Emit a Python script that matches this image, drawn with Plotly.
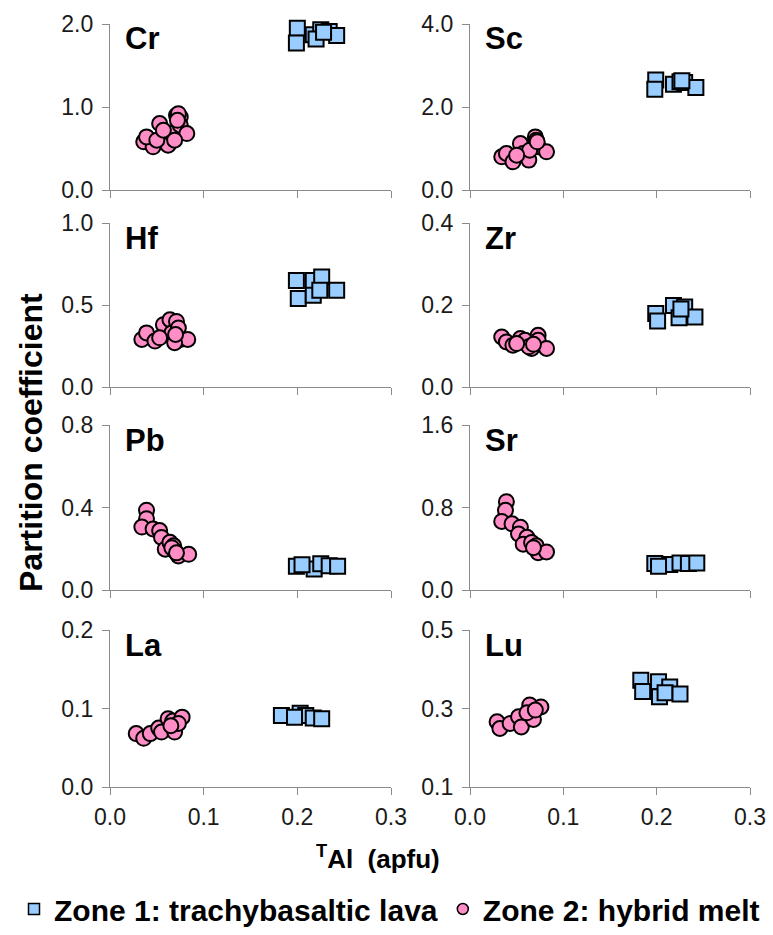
import plotly.graph_objects as go

W, H = 773, 935

# ---------------- data ----------------
elements = ["Cr", "Sc", "Hf", "Zr", "Pb", "Sr", "La", "Lu"]

cr_z1_x = [0.200, 0.199, 0.217, 0.225, 0.234, 0.242, 0.220, 0.228]
cr_z1_y = [1.95, 1.77, 1.87, 1.93, 1.91, 1.86, 1.82, 1.90]
cr_z2_x = [0.036, 0.046, 0.039, 0.053, 0.059, 0.062, 0.066, 0.071, 0.073, 0.075, 0.075, 0.082, 0.069, 0.050, 0.057, 0.073, 0.072]
cr_z2_y = [0.58, 0.52, 0.64, 0.80, 0.66, 0.54, 0.68, 0.90, 0.86, 0.88, 0.78, 0.68, 0.60, 0.60, 0.72, 0.92, 0.84]

sc_z1_x = [0.199, 0.198, 0.218, 0.225, 0.230, 0.242, 0.227]
sc_z1_y = [2.65, 2.43, 2.55, 2.61, 2.59, 2.47, 2.63]
sc_z2_x = [0.034, 0.039, 0.046, 0.054, 0.057, 0.063, 0.070, 0.071, 0.073, 0.082, 0.064, 0.050, 0.072]
sc_z2_y = [0.80, 0.88, 0.68, 1.12, 0.88, 0.72, 1.28, 1.20, 1.04, 0.92, 0.96, 0.84, 1.16]

hf_z1_x = [0.199, 0.201, 0.217, 0.226, 0.217, 0.224, 0.242]
hf_z1_y = [0.65, 0.54, 0.65, 0.67, 0.56, 0.59, 0.59]
hf_z2_x = [0.034, 0.039, 0.048, 0.057, 0.064, 0.066, 0.071, 0.073, 0.075, 0.083, 0.069, 0.053, 0.070]
hf_z2_y = [0.29, 0.33, 0.28, 0.38, 0.41, 0.33, 0.40, 0.36, 0.29, 0.29, 0.27, 0.30, 0.32]

zr_z1_x = [0.199, 0.201, 0.218, 0.230, 0.224, 0.241, 0.226]
zr_z1_y = [0.179, 0.161, 0.199, 0.195, 0.169, 0.171, 0.190]
zr_z2_x = [0.034, 0.039, 0.046, 0.054, 0.059, 0.066, 0.073, 0.073, 0.082, 0.063, 0.050, 0.068]
zr_z2_y = [0.122, 0.110, 0.102, 0.118, 0.114, 0.094, 0.126, 0.114, 0.094, 0.098, 0.106, 0.104]

pb_z1_x = [0.199, 0.218, 0.225, 0.234, 0.243, 0.205]
pb_z1_y = [0.115, 0.102, 0.127, 0.118, 0.115, 0.123]
pb_z2_x = [0.039, 0.039, 0.034, 0.046, 0.053, 0.055, 0.059, 0.064, 0.068, 0.073, 0.084, 0.069, 0.066, 0.071]
pb_z2_y = [0.387, 0.346, 0.305, 0.296, 0.288, 0.255, 0.198, 0.231, 0.214, 0.165, 0.173, 0.189, 0.205, 0.180]

sr_z1_x = [0.198, 0.214, 0.225, 0.234, 0.243, 0.202]
sr_z1_y = [0.257, 0.247, 0.263, 0.257, 0.263, 0.230]
sr_z2_x = [0.039, 0.038, 0.034, 0.045, 0.054, 0.052, 0.061, 0.057, 0.066, 0.071, 0.073, 0.082, 0.068]
sr_z2_y = [0.856, 0.773, 0.665, 0.642, 0.609, 0.543, 0.511, 0.444, 0.461, 0.428, 0.362, 0.369, 0.410]

la_z1_x = [0.183, 0.203, 0.209, 0.217, 0.226, 0.197]
la_z1_y = [0.091, 0.094, 0.091, 0.088, 0.087, 0.089]
la_z2_x = [0.028, 0.036, 0.043, 0.052, 0.055, 0.062, 0.067, 0.077, 0.069, 0.073, 0.065]
la_z2_y = [0.068, 0.062, 0.068, 0.075, 0.070, 0.087, 0.084, 0.089, 0.070, 0.081, 0.078]

lu_z1_x = [0.183, 0.185, 0.202, 0.203, 0.214, 0.209, 0.225]
lu_z1_y = [0.372, 0.343, 0.368, 0.330, 0.355, 0.340, 0.337]
lu_z2_x = [0.029, 0.032, 0.043, 0.052, 0.055, 0.064, 0.068, 0.076, 0.061, 0.070]
lu_z2_y = [0.266, 0.249, 0.262, 0.279, 0.253, 0.309, 0.272, 0.304, 0.289, 0.296]

y_ranges = [[0, 2], [0, 4], [0, 1], [0, 0.4], [0, 0.8], [0, 1.6], [0, 0.2], [0.1, 0.5]]
y_ticks = [[0, 1, 2], [0, 2, 4], [0, 0.5, 1], [0, 0.2, 0.4], [0, 0.4, 0.8], [0, 0.8, 1.6], [0, 0.1, 0.2], [0.1, 0.3, 0.5]]
x_ticks = [0, 0.1, 0.2, 0.3]

zone1 = [(cr_z1_x, cr_z1_y), (sc_z1_x, sc_z1_y), (hf_z1_x, hf_z1_y), (zr_z1_x, zr_z1_y),
         (pb_z1_x, pb_z1_y), (sr_z1_x, sr_z1_y), (la_z1_x, la_z1_y), (lu_z1_x, lu_z1_y)]
zone2 = [(cr_z2_x, cr_z2_y), (sc_z2_x, sc_z2_y), (hf_z2_x, hf_z2_y), (zr_z2_x, zr_z2_y),
         (pb_z2_x, pb_z2_y), (sr_z2_x, sr_z2_y), (la_z2_x, la_z2_y), (lu_z2_x, lu_z2_y)]

legend_names = ["Zone 1: trachybasaltic lava", "Zone 2: hybrid melt"]

# ---------------- styling / layout ----------------
BLUE = "#99CCFF"
PINK = "#FF8EC6"
AXIS = "#8a8a8a"
FONT = "Liberation Sans, Arial, sans-serif"

col_px = [(110, 391), (470, 750)]
row_px = [(24, 190), (223, 387), (425, 590), (630, 787)]

fig = go.Figure()
layout_axes = {}
annotations = []

for i, el in enumerate(elements):
    r, c = divmod(i, 2)
    n = i + 1
    xa = "x" if n == 1 else f"x{n}"
    ya = "y" if n == 1 else f"y{n}"
    xkey = "xaxis" if n == 1 else f"xaxis{n}"
    ykey = "yaxis" if n == 1 else f"yaxis{n}"
    x0, x1 = col_px[c]
    t0, t1 = row_px[r]
    layout_axes[xkey] = dict(
        domain=[x0 / W, x1 / W], anchor=ya, range=[0, 0.3], tickvals=x_ticks,
        tickformat=".1f", showticklabels=(r == 3), ticks="outside", ticklen=7,
        tickcolor=AXIS, showline=True, linecolor=AXIS, linewidth=1.2,
        showgrid=False, zeroline=False, automargin=False, ticklabelstandoff=2,
        tickfont=dict(family=FONT, size=23, color="#1a1a1a"),
    )
    layout_axes[ykey] = dict(
        domain=[1 - t1 / H, 1 - t0 / H], anchor=xa, range=y_ranges[i], tickvals=y_ticks[i],
        tickformat=".1f", ticks="outside", ticklen=7, tickcolor=AXIS,
        showline=True, linecolor=AXIS, linewidth=1.2, showgrid=False, zeroline=False,
        automargin=False, ticklabelstandoff=4,
        tickfont=dict(family=FONT, size=23, color="#1a1a1a"),
    )
    zx, zy = zone1[i]
    fig.add_trace(go.Scatter(
        x=zx, y=zy, xaxis=xa, yaxis=ya, mode="markers", showlegend=False,
        marker=dict(symbol="square", size=15, color=BLUE, line=dict(color="black", width=2)),
        cliponaxis=False, name=legend_names[0]))
    px_, py_ = zone2[i]
    fig.add_trace(go.Scatter(
        x=px_, y=py_, xaxis=xa, yaxis=ya, mode="markers", showlegend=False,
        marker=dict(symbol="circle", size=15, color=PINK, line=dict(color="black", width=2)),
        cliponaxis=False, name=legend_names[1]))
    h = t1 - t0
    annotations.append(dict(
        text=f"<b>{el}</b>", xref=f"{xa} domain", yref=f"{ya} domain",
        x=0.045, y=1 - 15 / h, xanchor="left", yanchor="middle", showarrow=False,
        font=dict(family=FONT, size=31, color="black")))

# legend-only traces
fig.add_trace(go.Scatter(x=[None], y=[None], mode="markers", name=legend_names[0],
                         marker=dict(symbol="square", size=11, color=BLUE, line=dict(color="black", width=1.5))))
fig.add_trace(go.Scatter(x=[None], y=[None], mode="markers", name=legend_names[1],
                         marker=dict(symbol="circle", size=11, color=PINK, line=dict(color="black", width=1.5))))

annotations.append(dict(
    text="<b>Partition coefficient</b>", xref="paper", yref="paper",
    x=31 / W, y=1 - 443 / H, textangle=-90, showarrow=False,
    xanchor="center", yanchor="middle", font=dict(family=FONT, size=32, color="black")))
annotations.append(dict(
    text="<b><sup>T</sup>Al&nbsp;&nbsp;(apfu)</b>", xref="paper", yref="paper",
    x=378 / W, y=1 - 857 / H, showarrow=False,
    xanchor="center", yanchor="middle", font=dict(family=FONT, size=26, color="black")))

fig.update_layout(
    width=W, height=H, template="none",
    margin=dict(l=0, r=0, t=0, b=0, autoexpand=False),
    paper_bgcolor="white", plot_bgcolor="white",
    showlegend=True,
    legend=dict(orientation="h", x=14 / W, xanchor="left", y=1 - 909 / H, yanchor="middle",
                font=dict(family=FONT, size=30, color="black", weight="bold"),
                bgcolor="rgba(0,0,0,0)", borderwidth=0, itemwidth=30, tracegroupgap=0),
    annotations=annotations,
    **layout_axes,
)

fig.write_html("out.html")
